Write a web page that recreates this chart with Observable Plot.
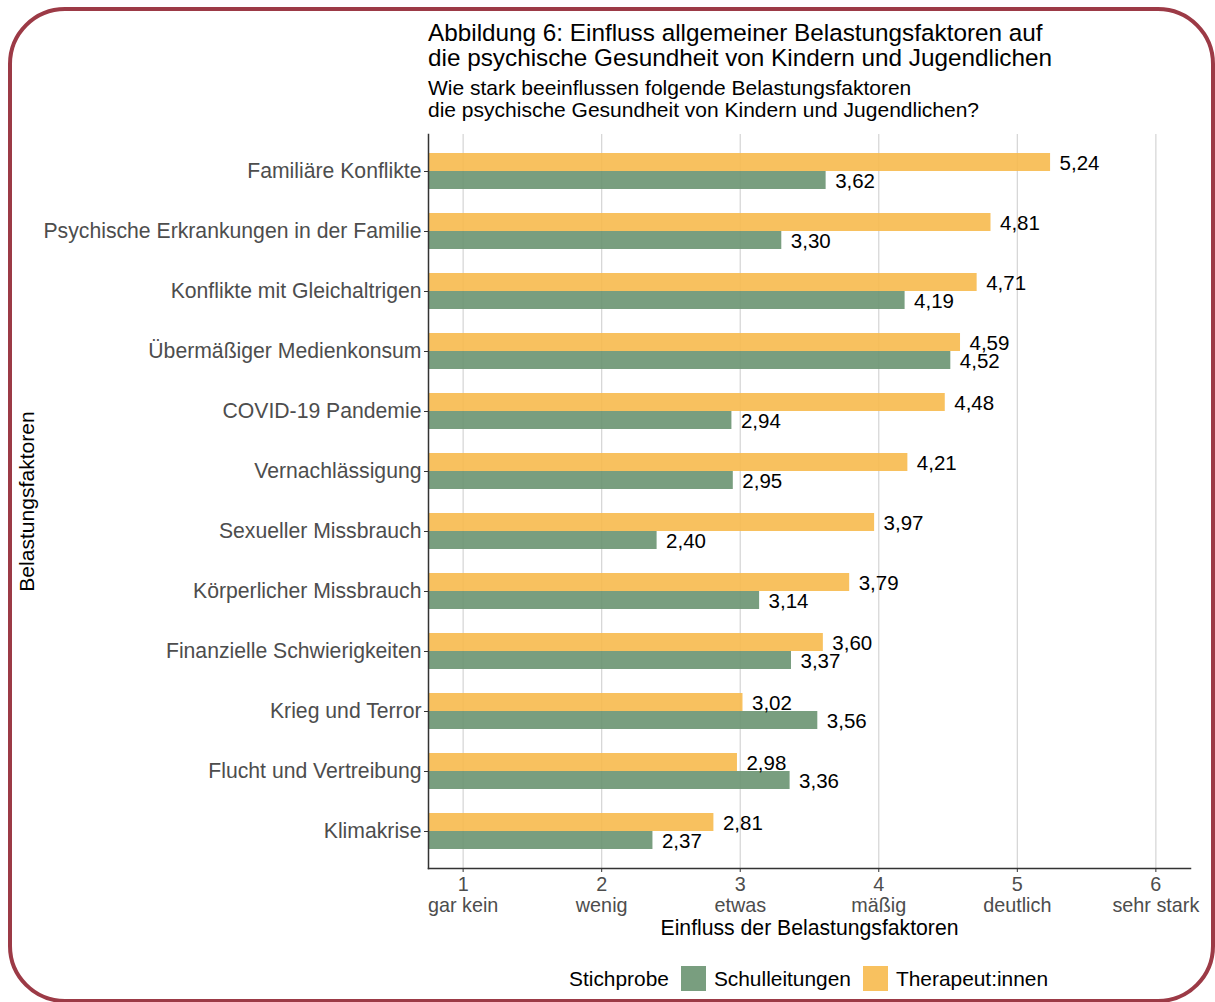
<!DOCTYPE html>
<html>
<head>
<meta charset="utf-8">
<script src="https://cdn.jsdelivr.net/npm/d3@7"></script>
<script src="https://cdn.jsdelivr.net/npm/@observablehq/plot@0.6"></script>
<style>
  html, body { margin: 0; padding: 0; background: #fff; }
  body { width: 1215px; height: 1002px; overflow: hidden; position: relative; font-family: "Liberation Sans", Arial, sans-serif; }
  #border { position: absolute; left: 8px; top: 7px; width: 1207px; height: 996px; border: 4px solid #9c3a46; border-radius: 57px; box-sizing: border-box; }
  #title { position: absolute; left: 428px; top: 20px; font-size: 24.3px; line-height: 25px; color: #000; white-space: nowrap; }
  #subtitle { position: absolute; left: 428px; top: 77px; font-size: 21px; line-height: 22px; color: #000; white-space: nowrap; }
  #chart { position: absolute; left: 0; top: 120px; }
  #legend { position: absolute; left: 569px; top: 966px; display: flex; align-items: center; font-size: 20.9px; line-height: 24px; color: #000; white-space: nowrap; }
  .sw { width: 25px; height: 25px; display: inline-block; margin: 0 8px 0 12px; }
</style>
</head>
<body>
<div id="border"></div>
<div id="title">Abbildung 6: Einfluss allgemeiner Belastungsfaktoren auf<br>die psychische Gesundheit von Kindern und Jugendlichen</div>
<div id="subtitle">Wie stark beeinflussen folgende Belastungsfaktoren<br>die psychische Gesundheit von Kindern und Jugendlichen?</div>
<div id="chart"></div>
<div id="legend"></div>
<script>
const categories = [
  "Familiäre Konflikte",
  "Psychische Erkrankungen in der Familie",
  "Konflikte mit Gleichaltrigen",
  "Übermäßiger Medienkonsum",
  "COVID-19 Pandemie",
  "Vernachlässigung",
  "Sexueller Missbrauch",
  "Körperlicher Missbrauch",
  "Finanzielle Schwierigkeiten",
  "Krieg und Terror",
  "Flucht und Vertreibung",
  "Klimakrise"
];
const therapeuten = [5.24, 4.81, 4.71, 4.59, 4.48, 4.21, 3.97, 3.79, 3.60, 3.02, 2.98, 2.81];
const schulleitungen = [3.62, 3.30, 4.19, 4.52, 2.94, 2.95, 2.40, 3.14, 3.37, 3.56, 3.36, 2.37];
const seriesNames = ["Schulleitungen", "Therapeut:innen"];
const seriesColors = ["#6a9471", "#f7ba4e"];
const xTicks = [1, 2, 3, 4, 5, 6];
const xTickLabels = ["gar kein", "wenig", "etwas", "mäßig", "deutlich", "sehr stark"];
const xDomain = [0.75, 6.25];

const rowsT = categories.map((c, i) => ({cat: c, value: therapeuten[i]}));
const rowsS = categories.map((c, i) => ({cat: c, value: schulleitungen[i]}));
const fmt = v => v.toFixed(2).replace(".", ",");
const FONT = "'Liberation Sans', Arial, sans-serif";

const chart = Plot.plot({
  width: 1215,
  height: 825,
  marginLeft: 428,
  marginRight: 25,
  marginTop: 14,
  marginBottom: 77,
  style: {fontFamily: FONT, background: "transparent"},
  x: {domain: xDomain},
  y: {domain: categories, type: "band", paddingInner: 0, paddingOuter: 0.1},
  marks: [
    Plot.gridX(xTicks, {stroke: "#d4d4d4", strokeOpacity: 1, strokeWidth: 1.2}),
    Plot.barX(rowsT, {x: "value", y: "cat", fill: seriesColors[1], fillOpacity: 0.9, insetTop: 12, insetBottom: 30, clip: true}),
    Plot.barX(rowsS, {x: "value", y: "cat", fill: seriesColors[0], fillOpacity: 0.9, insetTop: 30, insetBottom: 12, clip: true}),
    Plot.text(rowsT, {x: "value", y: "cat", text: d => fmt(d.value), dx: 9, dy: -8, textAnchor: "start", fontSize: 20.5, fill: "#000"}),
    Plot.text(rowsS, {x: "value", y: "cat", text: d => fmt(d.value), dx: 9, dy: 10, textAnchor: "start", fontSize: 20.5, fill: "#000"}),
    Plot.frame({anchor: "left", stroke: "#333", strokeWidth: 1.5}),
    Plot.frame({anchor: "bottom", stroke: "#333", strokeWidth: 1.5}),
    Plot.axisX(xTicks, {
      tickSize: 4, tickPadding: 3, stroke: "#333", fill: "#4d4d4d", fontSize: 19.8, lineHeight: 1.08,
      tickFormat: d => d + "\n" + xTickLabels[d - 1], label: null
    }),
    Plot.axisY({tickSize: 4, tickPadding: 3, stroke: "#333", fill: "#4d4d4d", fontSize: 21.2, label: null}),
    Plot.text(["Einfluss der Belastungsfaktoren"], {frameAnchor: "bottom", dy: 60, fontSize: 21.2, fill: "#000", lineAnchor: "middle", textAnchor: "middle"}),
    Plot.text(["Belastungsfaktoren"], {frameAnchor: "left", dx: -401, rotate: -90, fontSize: 21.1, fill: "#000", lineAnchor: "middle", textAnchor: "middle"})
  ]
});
document.getElementById("chart").appendChild(chart);

const legend = document.getElementById("legend");
let html = '<span>Stichprobe</span>';
seriesNames.forEach((n, i) => {
  html += `<span class="sw" style="background:${seriesColors[i]};opacity:0.9"></span><span>${n}</span>`;
});
legend.innerHTML = html;
</script>
</body>
</html>
